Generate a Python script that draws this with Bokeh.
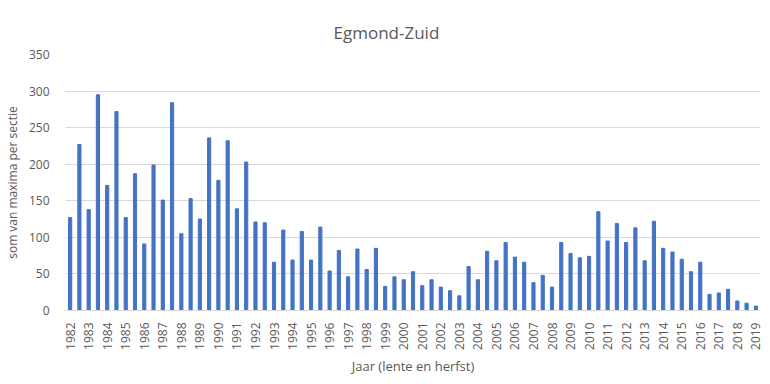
import math
from bokeh.plotting import figure
from bokeh.models import Range1d, SingleIntervalTicker, FixedTicker
from bokeh.embed import file_html
from bokeh.resources import INLINE

# Data: two surveys per year (lente, herfst); 2019 only lente
years = list(range(1982, 2020))
seasons = ["lente", "herfst"]
values = [127, 227, 138, 295, 171, 272, 127, 187, 91, 199,
          151, 284, 105, 153, 125, 236, 178, 232, 139, 203,
          121, 120, 66, 110, 69, 108, 69, 114, 54, 82,
          46, 84, 56, 85, 33, 46, 42, 53, 34, 42,
          32, 27, 20, 60, 42, 81, 68, 93, 73, 66,
          38, 48, 32, 93, 78, 72, 74, 135, 95, 119,
          93, 113, 68, 122, 85, 80, 70, 53, 66, 22,
          24, 29, 13, 10, 6]
title_text = "Egmond-Zuid"

categories = []
for y in years:
    for s in seasons:
        categories.append((y, s))
categories = categories[:len(values)]
xpos = list(range(len(categories)))

TXT = "#595959"
FONT = "Open Sans"

p = figure(x_range=Range1d(-0.5, len(categories) - 0.5), y_range=Range1d(0, 350),
           width=768, height=380, output_backend="svg", toolbar_location=None,
           min_border_left=64, min_border_right=8, min_border_top=54, min_border_bottom=70)

p.vbar(x=xpos, top=values, width=0.34, color="#4472C4")

p.title.text = title_text
p.title.align = "left"
p.title.offset = 268
p.title.text_font = FONT
p.title.text_font_size = "17px"
p.title.text_font_style = "normal"
p.title.text_color = TXT
p.title.standoff = 22

p.outline_line_color = None
p.xgrid.grid_line_color = None
p.ygrid.grid_line_color = "#D9D9D9"
p.ygrid.ticker = SingleIntervalTicker(interval=50)

p.yaxis.ticker = SingleIntervalTicker(interval=50)
p.yaxis.axis_line_color = None
p.yaxis.major_tick_line_color = None
p.yaxis.minor_tick_line_color = None
p.yaxis.major_label_text_font = FONT
p.yaxis.major_label_text_font_size = "12px"
p.yaxis.major_label_text_color = TXT
p.yaxis.major_label_standoff = 10
p.yaxis.axis_label = "som van maxima per sectie"
p.yaxis.axis_label_text_font = FONT
p.yaxis.axis_label_text_font_size = "12px"
p.yaxis.axis_label_text_font_style = "normal"
p.yaxis.axis_label_text_color = TXT

label_ticks = [i for i, c in enumerate(categories) if c[1] == "lente"]
p.xaxis.ticker = FixedTicker(ticks=label_ticks)
p.xaxis.major_label_overrides = {i: str(categories[i][0]) for i in label_ticks}
p.xaxis.axis_line_color = "#D9D9D9"
p.xaxis.major_tick_line_color = None
p.xaxis.minor_tick_line_color = None
p.xaxis.major_label_orientation = math.pi / 2
p.xaxis.major_label_text_font = FONT
p.xaxis.major_label_text_font_size = "12px"
p.xaxis.major_label_text_color = TXT
p.xaxis.major_label_standoff = 6
p.xaxis.axis_label = "Jaar (lente en herfst)"
p.xaxis.axis_label_text_font = FONT
p.xaxis.axis_label_text_font_size = "13px"
p.xaxis.axis_label_text_font_style = "normal"
p.xaxis.axis_label_text_color = TXT
p.xaxis.axis_label_standoff = 4

open("out.html", "w").write(file_html(p, INLINE))
